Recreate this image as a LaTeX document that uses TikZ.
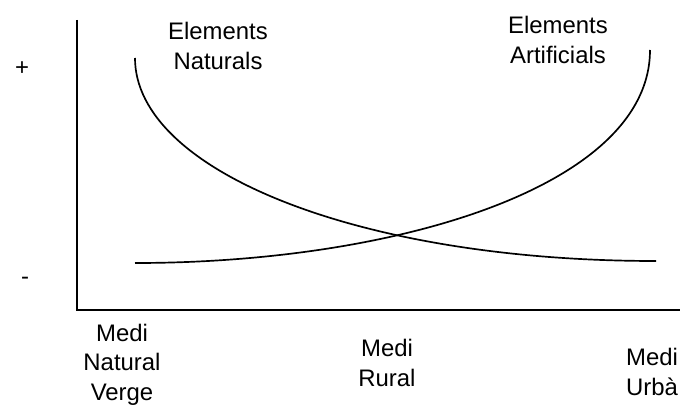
\documentclass[tikz,border=0pt]{standalone}
\usepackage{fontspec}
\setmainfont{Liberation Sans}
\usepackage{tikz}

\tikzset{
  lbl/.style={align=center,font=\fontsize{17}{21.3}\selectfont,inner sep=0pt},
  axis/.style={line width=1.6pt},
  curve/.style={line width=1.2pt}
}

\begin{document}
\begin{tikzpicture}

    \useasboundingbox (-1.925,-2.375) rectangle (15.075,7.75);

    % axes
    \coordinate (O) at (0,0);
    \coordinate (ytop) at (0,7.25);
    \coordinate (xend) at (15.075,0);
    \draw[axis] (ytop) -- (O) -- (xend);

    % axis marks
    \node[lbl] (plus) at (-1.375,6.025) {+};
    \node[lbl] (minus) at (-1.3,0.73) {-};

    %%%%%%%%%%%%%%%%%%%%%%%%%%%%%%%%%%%%%%%%%%%%%%%%%%%%%%

    % natural elements
    \coordinate (natA) at (1.45,6.3);
    \coordinate (natB) at (14.475,1.225);
    \draw[curve] (natA) .. controls (1.45,3.5) and (7,1.225) .. (natB);
    \node[lbl] (natlbl) at (3.525,6.6) {Elements\\Naturals};

    % artificial elements
    \coordinate (artA) at (1.45,1.175);
    \coordinate (artB) at (14.325,6.5);
    \draw[curve] (artA) .. controls (8,1.175) and (14.325,3.1) .. (artB);
    \node[lbl] (artlbl) at (12.025,6.75) {Elements\\Artificials};

    %%%%%%%%%%%%%%%%%%%%%%%%%%%%%%%%%%%%%%%%%%%%%%%%%%%%%%

    % kinds of environment
    \node[lbl] (verge) at (1.125,-1.37) {Medi\\Natural\\Verge};
    \node[lbl] (rural) at (7.75,-1.325) {Medi\\Rural};
    \node[lbl] (urba) at (14.375,-1.55) {Medi\\Urbà};

\end{tikzpicture}
\end{document}
